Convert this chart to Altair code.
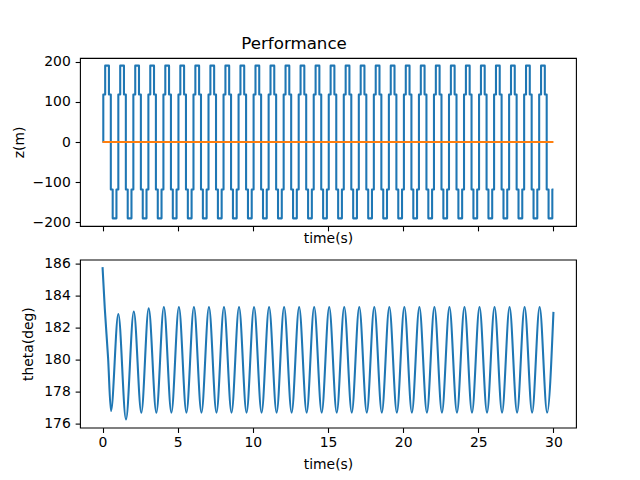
import altair as alt
import pandas as pd

# ---------------- data ----------------
# top panel: z(m) pulse train, one period (1 s) pattern repeated
z_start_t = 0.0
z_start_v = 0.0
pulse_phase = [0.05, 0.175, 0.425, 0.55, 0.675, 0.925]   # switching times inside each second
pulse_level = [118, 190, 118, -118, -190, -118]          # level after each switch
n_periods = 30
t_end = 30.0

# orange reference line
ref_t = [0.0, 30.0]
ref_v = [0.0, 0.0]

# bottom panel: theta(deg) extrema
theta_t = [0.0, 0.15, 0.37, 0.56, 1.05, 1.56, 2.08, 2.58, 3.07, 3.58, 4.08,
           4.58, 5.08, 5.58, 6.08, 6.58, 7.08, 7.58, 8.08, 8.58, 9.08,
           9.58, 10.08, 10.58, 11.08, 11.58, 12.08, 12.58, 13.08, 13.58, 14.08,
           14.58, 15.08, 15.58, 16.08, 16.58, 17.08, 17.58, 18.08, 18.58, 19.08,
           19.58, 20.08, 20.58, 21.08, 21.58, 22.08, 22.58, 23.08, 23.58, 24.08,
           24.58, 25.08, 25.58, 26.08, 26.58, 27.08, 27.58, 28.08, 28.58, 29.08,
           29.58, 30.0]
theta_v = [185.8, 183.2, 180.1, 176.8, 182.87, 176.27, 183.02, 176.69, 183.22, 176.69, 183.3,
           176.7, 183.3, 176.7, 183.3, 176.7, 183.3, 176.7, 183.3, 176.7, 183.3,
           176.7, 183.3, 176.7, 183.3, 176.7, 183.3, 176.7, 183.3, 176.7, 183.3,
           176.7, 183.3, 176.7, 183.3, 176.7, 183.3, 176.7, 183.3, 176.7, 183.3,
           176.7, 183.3, 176.7, 183.3, 176.7, 183.3, 176.7, 183.3, 176.7, 183.3,
           176.7, 183.3, 176.7, 183.3, 176.7, 183.3, 176.7, 183.3, 176.7, 183.3,
           176.7, 183.0]

x_ticks = [0, 5, 10, 15, 20, 25, 30]
z_ticks = [-200, -100, 0, 100, 200]
theta_ticks = [176, 178, 180, 182, 184, 186]

# ---------------- tables ----------------
z_t, z_v = [z_start_t], [z_start_v]
for k in range(n_periods):
    for ph, lv in zip(pulse_phase, pulse_level):
        z_t.append(k + ph)
        z_v.append(lv)
z_t.append(t_end)
z_v.append(z_v[-1])
z_df = pd.DataFrame({"t": z_t, "z": z_v})
ref_df = pd.DataFrame({"t": ref_t, "z": ref_v})
theta_df = pd.DataFrame({"t": theta_t, "theta": theta_v})

BLUE = "#1f77b4"
ORANGE = "#ff7f0e"
LW = 2.08

x_scale = alt.Scale(domain=[-1.5, 31.5], nice=False, zero=False)

top_x = alt.X("t:Q", scale=x_scale,
              axis=alt.Axis(values=x_ticks, labels=False, title="time(s)", titlePadding=0.5))
top_y = alt.Y("z:Q", scale=alt.Scale(domain=[-209, 209], nice=False, zero=False),
              axis=alt.Axis(values=z_ticks, title="z(m)", titlePadding=6))

top = alt.layer(
    alt.Chart(z_df).mark_line(color=BLUE, strokeWidth=LW, interpolate="step-after",
                              strokeJoin="round").encode(x=top_x, y=top_y),
    alt.Chart(ref_df).mark_line(color=ORANGE, strokeWidth=LW).encode(x=top_x, y=top_y),
).properties(width=496, height=168)

bot_x = alt.X("t:Q", scale=x_scale,
              axis=alt.Axis(values=x_ticks, title="time(s)", labelBaseline="alphabetic",
                            labelPadding=13.9, titlePadding=8, format="d"))
bot_y = alt.Y("theta:Q", scale=alt.Scale(domain=[175.76, 186.27], nice=False, zero=False),
              axis=alt.Axis(values=theta_ticks, title="theta(deg)", titlePadding=8, format="d"))

bottom = alt.Chart(theta_df).mark_line(color=BLUE, strokeWidth=LW, interpolate="monotone").encode(
    x=bot_x, y=bot_y
).properties(width=496, height=168)

chart = alt.vconcat(
    top, bottom, spacing=33.6, bounds="flush",
    title=alt.TitleParams("Performance", font="DejaVu Sans", fontSize=16.67,
                          fontWeight="normal", color="black", anchor="middle", offset=1.6),
).properties(
    padding={"left": 3, "top": 27, "right": 0, "bottom": 0},
).configure_view(
    stroke="black", strokeWidth=1.1
).configure_axis(
    domain=False, grid=False,
    tickColor="black", tickSize=4.86, tickWidth=1.1,
    labelFont="DejaVu Sans", labelFontSize=13.9, labelColor="black", labelPadding=4.86,
    titleFont="DejaVu Sans", titleFontSize=13.9, titleFontWeight="normal", titleColor="black",
)

chart.save("out.html", embed_options={"renderer": "svg", "actions": False})
